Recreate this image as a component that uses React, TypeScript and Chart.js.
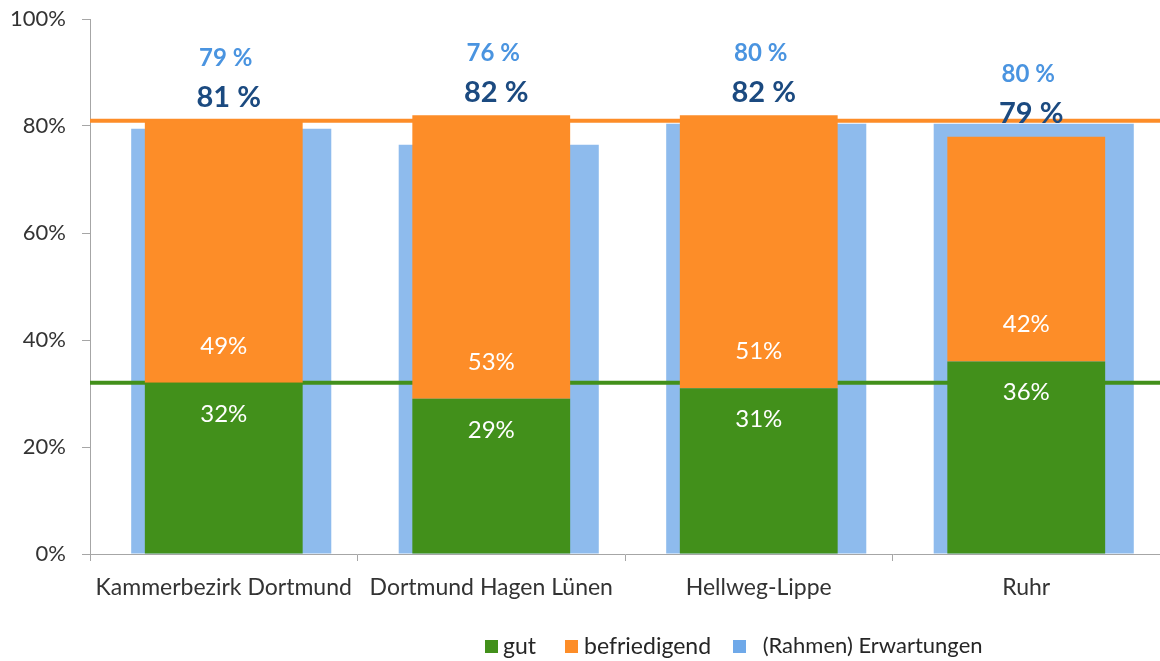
import React, { useEffect, useRef } from "react";
import { Chart, registerables } from "chart.js";

Chart.register(...registerables);

// ---- data ----
const categories = ["Kammerbezirk Dortmund", "Dortmund Hagen Lünen", "Hellweg-Lippe", "Ruhr"];
const gut = [32, 29, 31, 36];
const befriedigend = [49, 53, 51, 42];
const erwartungen = [79.5, 76.5, 80.4, 80.4];
const erwartungenLabels = ["79 %", "76 %", "80 %", "80 %"];
const totalLabels = ["81 %", "82 %", "82 %", "79 %"];
const refTotal = 81;
const refGut = 32;
const legendLabels = ["gut", "befriedigend", " (Rahmen) Erwartungen"];

// ---- styles ----
const GREEN = "#42901b";
const ORANGE = "#fd8d28";
const BLUE = "#8ebbed";
const BLUE_LEGEND = "#6fa9e9";
const BLUE_TEXT = "#4a94e0";
const NAVY_TEXT = "#1b4a80";
const AXIS = "#a6a6a6";
const TEXT = "#333333";
const FONT = "Lato, 'Open Sans', sans-serif";

const overlayPlugin = {
  id: "overlay",
  afterDatasetDraw(chart: any, args: any) {
    if (args.index !== 2) return;
    const { ctx, chartArea } = chart;
    const y = chart.scales.y;
    ctx.save();
    ctx.lineWidth = 4;
    const lines: [number, string][] = [
      [refTotal, ORANGE],
      [refGut, GREEN],
    ];
    lines.forEach(([v, c]) => {
      const py = y.getPixelForValue(v);
      ctx.strokeStyle = c;
      ctx.beginPath();
      ctx.moveTo(chartArea.left, py);
      ctx.lineTo(chartArea.right, py);
      ctx.stroke();
    });
    ctx.restore();
  },
  afterDraw(chart: any) {
    const { ctx } = chart;
    const x = chart.scales.x;
    const y = chart.scales.y;
    ctx.save();
    ctx.textAlign = "center";
    ctx.textBaseline = "middle";
    categories.forEach((_, i) => {
      const cx = x.getPixelForValue(i);
      const gutTop = y.getPixelForValue(gut[i]);
      const top = y.getPixelForValue(gut[i] + befriedigend[i]);
      // inner labels
      ctx.fillStyle = "#ffffff";
      ctx.font = `24px ${FONT}`;
      ctx.fillText(`${gut[i]}%`, cx, gutTop + 31);
      ctx.fillText(`${befriedigend[i]}%`, cx, gutTop - 37);
      // totals
      ctx.fillStyle = NAVY_TEXT;
      ctx.font = `bold 29px ${FONT}`;
      ctx.fillText(totalLabels[i], cx + 5, top - 23);
      ctx.fillStyle = BLUE_TEXT;
      ctx.font = `bold 24px ${FONT}`;
      ctx.fillText(erwartungenLabels[i], cx + 2, top - 62);
    });
    ctx.restore();
  },
};

export default function App() {
  const canvasRef = useRef<HTMLCanvasElement | null>(null);

  useEffect(() => {
    if (!canvasRef.current) return;
    const chart = new Chart(canvasRef.current, {
      type: "bar",
      data: {
        labels: categories,
        datasets: [
          {
            label: legendLabels[0],
            data: gut,
            backgroundColor: GREEN,
            barPercentage: 0.59,
            categoryPercentage: 1,
            grouped: false,
            xAxisID: "x",
          },
          {
            label: legendLabels[1],
            data: befriedigend,
            backgroundColor: ORANGE,
            barPercentage: 0.59,
            categoryPercentage: 1,
            grouped: false,
            xAxisID: "x",
          },
          {
            label: legendLabels[2],
            data: erwartungen.map((v, i) => ({ x: i, y: v })) as any,
            backgroundColor: BLUE,
            barPercentage: 0.748,
            categoryPercentage: 1,
            grouped: false,
            xAxisID: "x2",
          },
        ],
      },
      options: {
        animation: false,
        responsive: true,
        maintainAspectRatio: false,
        layout: { padding: { top: 19, left: 0, right: 0, bottom: 0 } },
        plugins: {
          legend: { display: false },
          tooltip: { enabled: false },
        },
        scales: {
          x: {
            type: "category",
            stacked: true,
            offset: true,
            grid: {
              offset: true,
              drawOnChartArea: false,
              drawTicks: true,
              tickLength: 7,
              color: AXIS,
            },
            border: { color: AXIS },
            ticks: {
              color: TEXT,
              font: { family: FONT, size: 23 },
              padding: 13,
              maxRotation: 0,
              autoSkip: false,
            },
            afterFit: (s: any) => {
              s.height = 107;
            },
          },
          x2: {
            type: "linear",
            display: false,
            offset: false,
            min: -0.528,
            max: 3.472,
            afterBuildTicks: (s: any) => {
              s.ticks = categories.map((_, i) => ({ value: i }));
            },
          },
          y: {
            stacked: true,
            min: 0,
            max: 100,
            ticks: {
              stepSize: 20,
              color: TEXT,
              font: { family: FONT, size: 22 },
              padding: 16,
              callback: (v: any) => `${v}%`,
            },
            grid: {
              drawOnChartArea: false,
              drawTicks: true,
              tickLength: 8,
              color: AXIS,
            },
            border: { color: AXIS },
            afterFit: (s: any) => {
              s.width = 90;
              s.paddingTop = 0;
              s.paddingBottom = 0;
            },
          },
        },
      } as any,
      plugins: [overlayPlugin],
    });
    return () => chart.destroy();
  }, []);

  const legendItems = [
    { color: GREEN, label: legendLabels[0], sq: 485, tx: 503 },
    { color: ORANGE, label: legendLabels[1], sq: 565, tx: 584 },
    { color: BLUE_LEGEND, label: legendLabels[2], sq: 733, tx: 757 },
  ];

  return (
    <div
      style={{
        position: "fixed",
        left: 0,
        top: 0,
        width: 1160,
        height: 661,
        background: "#ffffff",
        overflow: "hidden",
      }}
    >
      <canvas ref={canvasRef} style={{ display: "block", width: "100%", height: "100%" }} />
      {legendItems.map((it) => (
        <React.Fragment key={it.label}>
          <div
            style={{
              position: "absolute",
              left: it.sq,
              top: 640,
              width: 13,
              height: 13,
              background: it.color,
            }}
          />
          <div
            style={{
              position: "absolute",
              left: it.tx,
              top: 631,
              height: 28,
              lineHeight: "28px",
              fontFamily: FONT,
              fontSize: it.label === legendLabels[2] ? 22 : 23,
              color: "#262626",
              whiteSpace: "pre",
            }}
          >
            {it.label}
          </div>
        </React.Fragment>
      ))}
    </div>
  );
}
